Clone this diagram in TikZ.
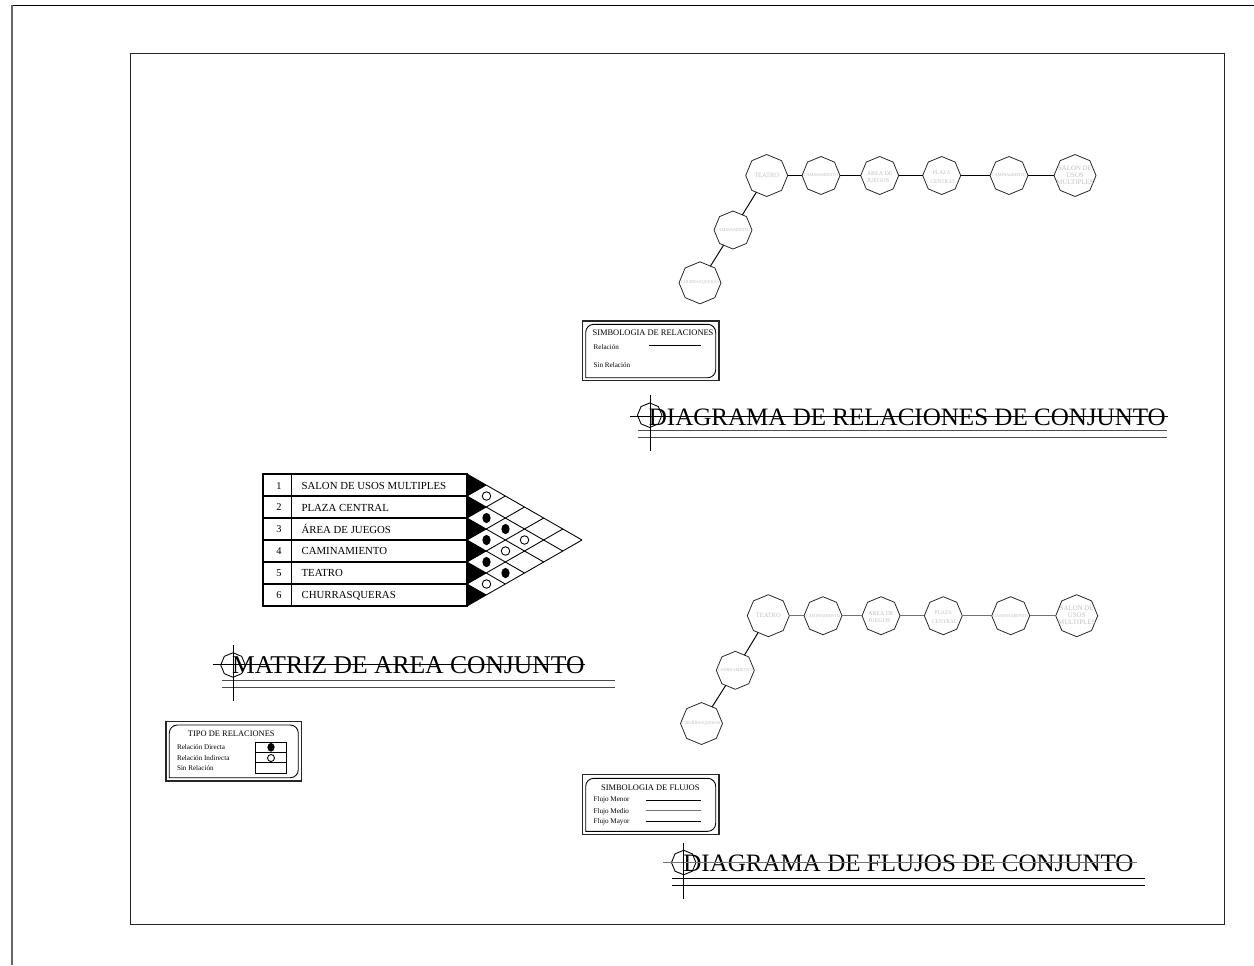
\documentclass[tikz,border=0pt]{standalone}
\usepackage{xcolor}
\usepackage{fontspec}
\setmainfont{Liberation Serif}
\usetikzlibrary{positioning, shapes.geometric}
\definecolor{labelgray}{gray}{0.75}
\tikzset{
	frameline/.style={line width=0.5pt, black!85},
	octline/.style={draw, black!85, line width=0.45pt, regular polygon, regular polygon sides=8, shape border rotate=22.5, inner sep=0pt, outer sep=0pt},
	octbig/.style={octline, minimum size=0.84cm},
	octsmall/.style={octline, minimum size=0.76cm},
	octtitle/.style={octline, black, line width=0.5pt, minimum size=0.49cm},
	tinytext/.style={text=labelgray, inner sep=0pt, align=center, font=\fontsize{2.5}{3}\selectfont},
	midtext/.style={text=labelgray, inner sep=0pt, align=center, font=\fontsize{3.4}{4.2}\selectfont},
	bigtext/.style={text=labelgray, inner sep=0pt, align=center, font=\fontsize{3.9}{4}\selectfont},
	flowline/.style={black!55, line width=0.85pt},
	titletext/.style={anchor=base west, inner sep=0pt, font=\fontsize{14.25}{16}\selectfont},
	rowtext/.style={anchor=base west, inner sep=0pt, font=\fontsize{6.15}{7}\selectfont},
	numtext/.style={inner sep=0pt, font=\fontsize{5.9}{7}\selectfont},
	legendhead/.style={inner sep=0pt, font=\fontsize{4.8}{6}\selectfont},
	legendtext/.style={anchor=west, inner sep=0pt, font=\fontsize{4.05}{5}\selectfont},
	dotopen/.style={draw, black, circle, line width=0.5pt, fill=white, inner sep=0pt, minimum size=0.17cm},
	dotfull/.style={ellipse, fill=black, inner sep=0pt, minimum width=0.165cm, minimum height=0.205cm},
	legopen/.style={dotopen, minimum size=0.14cm},
	legfull/.style={dotfull, minimum width=0.145cm, minimum height=0.175cm}
}
\begin{document}
\begin{tikzpicture}[x=0.02cm, y=-0.02cm]
	\useasboundingbox (0,0) rectangle (1254,965);
	% sheet frames
	\draw[black, line width=0.55pt] (1254,5) -- (12,5);
	\draw[black!60, line width=0.7pt] (12,5) -- (12,965);
	\draw[frameline] (130,53) rectangle (1224,924);

	% relaciones
	\node at (766.7,175.5) (teatroa) [octbig, label={[midtext,font=\fontsize{3.7}{4}\selectfont]center:TEATRO}] {};
	\node at (821,175.5) (camia) [octsmall, label={[tinytext]center:CAMINAMIENTO}] {};
	\node at (879.7,175.5) (areaa) [octsmall, label={[midtext,align=left,yshift=-0.03cm]center:AREA DE\\JUEGOS}] {};
	\node at (941.7,175.5) (plazaa) [octsmall, label={[midtext,font=\fontsize{3.1}{4.9}\selectfont,yshift=-0.03cm]center:PLAZA\\\ \ CENTRAL}] {};
	\node at (1009,175.5) (camib) [octsmall, label={[tinytext]center:CAMINAMIENTO}] {};
	\node at (1075,175.5) (salona) [octbig, label={[bigtext]center:SALON DE\\USOS\\MULTIPLES}] {};
	\node at (733,230) (camic) [octsmall, label={[tinytext]center:CAMINAMIENTO}] {};
	\node at (700,282.8) (churra) [octbig, label={[tinytext]center:CHURRASQUERAS}] {};
	\draw[black, line width=0.55pt] (teatroa) -- (camia);
	\draw[black, line width=0.55pt] (camia) -- (areaa);
	\draw[black, line width=0.55pt] (areaa) -- (plazaa);
	\draw[black, line width=0.55pt] (plazaa) -- (camib);
	\draw[black, line width=0.55pt] (camib) -- (salona);
	\draw[black, line width=0.55pt] (teatroa) -- (camic);
	\draw[black, line width=0.55pt] (camic) -- (churra);

	\draw[frameline, line width=0.6pt] (582.3,321) rectangle (719,380.7);
	\draw[black, line width=0.5pt] (585.7,350) [rounded corners=0.16cm] -- (585.7,324.3) -- (715.7,324.3) -- (715.7,377.7) [sharp corners] -- (585.7,377.7) -- cycle;
	\node at (653,332.7) (simrel) [legendhead] {SIMBOLOGIA DE RELACIONES};
	\node at (593.3,346.7) (rel) [legendtext] {Relación};
	\node at (593.3,365) (sinrel) [legendtext] {Sin Relación};
	\coordinate (rela) at (649,345.3);
	\coordinate (relb) at (700.7,345.3);
	\draw[black, line width=0.55pt] (rela) -- (relb);

	\node at (649.7,415.2) (octrel) [octtitle] {};
	\node at (648.5,425) (titlerel) [titletext] {DIAGRAMA DE RELACIONES DE CONJUNTO};
	\draw[black, line width=0.5pt] (630,416) -- (1168,416);
	\draw[black!70, line width=0.75pt] (638,430.7) -- (1167,430.7);
	\draw[black!70, line width=0.5pt] (638,437.7) -- (1167,437.7);
	\draw[black, line width=0.5pt] (650,395) -- (650,450.7);

	% matriz
	\draw[black, line width=0.6pt] (263,474) rectangle (467,606);
	\draw[black, line width=0.55pt] (291,474) -- (291,606);
	\draw[black, line width=0.6pt] (263,496) -- (467,496);
	\draw[black, line width=0.6pt] (263,518) -- (467,518);
	\draw[black, line width=0.6pt] (263,540) -- (467,540);
	\draw[black, line width=0.6pt] (263,562) -- (467,562);
	\draw[black, line width=0.6pt] (263,584) -- (467,584);
	\node at (279,485.7) (numa) [numtext] {1};
	\node at (279,507.5) (numb) [numtext] {2};
	\node at (279,529.5) (numc) [numtext] {3};
	\node at (279,551.3) (numd) [numtext] {4};
	\node at (279,573.3) (nume) [numtext] {5};
	\node at (279,595) (numf) [numtext] {6};
	\node at (301.2,489.3) (rowa) [rowtext] {SALON DE USOS MULTIPLES};
	\node at (301.2,511.1) (rowb) [rowtext] {PLAZA CENTRAL};
	\node at (301.2,533.1) (rowc) [rowtext] {ÁREA DE JUEGOS};
	\node at (301.2,554.9) (rowd) [rowtext] {CAMINAMIENTO};
	\node at (301.2,576.9) (rowe) [rowtext] {TEATRO};
	\node at (301.2,598.6) (rowf) [rowtext] {CHURRASQUERAS};

	\fill[black] (467,474) -- (486.2,485) -- (467,496) -- cycle;
	\fill[black] (467,496) -- (486.2,507) -- (467,518) -- cycle;
	\fill[black] (467,518) -- (486.2,529) -- (467,540) -- cycle;
	\fill[black] (467,540) -- (486.2,551) -- (467,562) -- cycle;
	\fill[black] (467,562) -- (486.2,573) -- (467,584) -- cycle;
	\fill[black] (467,584) -- (486.2,595) -- (467,606) -- cycle;
	\draw[black, line width=0.5pt] (467,474) -- (582,540);
	\draw[black, line width=0.5pt] (467,496) -- (562.8,551);
	\draw[black, line width=0.5pt] (467,518) -- (543.7,562);
	\draw[black, line width=0.5pt] (467,540) -- (524.5,573);
	\draw[black, line width=0.5pt] (467,562) -- (505.3,584);
	\draw[black, line width=0.5pt] (467,584) -- (486.2,595);
	\draw[black, line width=0.5pt] (467,606) -- (582,540);
	\draw[black, line width=0.5pt] (467,584) -- (562.8,529);
	\draw[black, line width=0.5pt] (467,562) -- (543.7,518);
	\draw[black, line width=0.5pt] (467,540) -- (524.5,507);
	\draw[black, line width=0.5pt] (467,518) -- (505.3,496);
	\draw[black, line width=0.5pt] (467,496) -- (486.2,485);
	\node at (486.5,496) (dota) [dotopen] {};
	\node at (486.5,518) (dotb) [dotfull] {};
	\node at (486.5,540) (dotc) [dotfull] {};
	\node at (486.5,562) (dotd) [dotfull] {};
	\node at (486.5,584) (dote) [dotopen] {};
	\node at (505.5,529) (dotf) [dotfull] {};
	\node at (505.5,551) (dotg) [dotopen] {};
	\node at (505.5,573) (doth) [dotfull] {};
	\node at (524.5,540) (doti) [dotopen] {};

	\node at (233,665) (octmat) [octtitle] {};
	\node at (231.7,673.3) (titlemat) [titletext, font=\fontsize{14.55}{16}\selectfont] {MATRIZ DE AREA CONJUNTO};
	\draw[black, line width=0.5pt] (213.3,664) -- (585,664);
	\draw[black!70, line width=0.75pt] (222,680.7) -- (615,680.7);
	\draw[black!70, line width=0.5pt] (222,687.3) -- (615,687.3);
	\draw[black, line width=0.5pt] (233,645) -- (233,701);

	\draw[frameline, line width=0.6pt] (166,721.7) rectangle (301.7,781);
	\draw[black, line width=0.5pt] (169.3,750) [rounded corners=0.16cm] -- (169.3,725) -- (298.3,725) -- (298.3,777.7) [sharp corners] -- (169.3,777.7) -- cycle;
	\node at (231.3,733.3) (tiporel) [legendhead] {TIPO DE RELACIONES};
	\node at (176.7,746.7) (reldir) [legendtext] {Relación Directa};
	\node at (176.7,757.7) (relind) [legendtext] {Relación Indirecta};
	\node at (176.7,768) (relsin) [legendtext] {Sin Relación};
	\draw[black, line width=0.5pt] (255.3,742.3) rectangle (286.7,773.3);
	\draw[black, line width=0.5pt] (255.3,752.3) -- (286.7,752.3);
	\draw[black, line width=0.5pt] (255.3,762.7) -- (286.7,762.7);
	\node at (271,747.3) (legdira) [legfull] {};
	\node at (271,758) (legdirb) [legopen] {};

	% flujos
	\node at (768.3,615.7) (teatrob) [octbig, label={[midtext,font=\fontsize{3.7}{4}\selectfont]center:TEATRO}] {};
	\node at (823,615.7) (camid) [octsmall, label={[tinytext]center:CAMINAMIENTO}] {};
	\node at (881,615.7) (areab) [octsmall, label={[midtext,align=left,yshift=-0.03cm]center:AREA DE\\JUEGOS}] {};
	\node at (943.3,615.7) (plazab) [octsmall, label={[midtext,font=\fontsize{3.1}{4.9}\selectfont,yshift=-0.03cm]center:PLAZA\\\ \ CENTRAL}] {};
	\node at (1010.7,615.7) (camie) [octsmall, label={[tinytext]center:CAMINAMIENTO}] {};
	\node at (1076.7,615.7) (salonb) [octbig, label={[bigtext]center:SALON DE\\USOS\\MULTIPLES}] {};
	\node at (735.3,670.3) (camif) [octsmall, label={[tinytext]center:CAMINAMIENTO}] {};
	\node at (701.5,723.5) (churrb) [octbig, label={[tinytext]center:CHURRASQUERAS}] {};
	\draw[flowline] (teatrob) -- (camid);
	\draw[flowline] (camid) -- (areab);
	\draw[flowline] (areab) -- (plazab);
	\draw[flowline] (plazab) -- (camie);
	\draw[flowline] (camie) -- (salonb);
	\draw[black, line width=0.55pt] (teatrob) -- (camif);
	\draw[black, line width=0.55pt] (camif) -- (churrb);

	\draw[frameline, line width=0.6pt] (582.3,774.3) rectangle (719,834.7);
	\draw[black, line width=0.5pt] (585.7,805) [rounded corners=0.16cm] -- (585.7,778.3) -- (715.7,778.3) -- (715.7,831.3) [sharp corners] -- (585.7,831.3) -- cycle;
	\node at (650.3,787.7) (simflu) [legendhead] {SIMBOLOGIA DE FLUJOS};
	\node at (593.3,800) (flumen) [legendtext] {Flujo Menor};
	\node at (593.3,811.7) (flumed) [legendtext] {Flujo Medio};
	\node at (593.3,821.7) (flumay) [legendtext] {Flujo Mayor};
	\coordinate (menora) at (645.7,800.3);
	\coordinate (menorb) at (701,800.3);
	\coordinate (medioa) at (645.7,810.7);
	\coordinate (mediob) at (701,810.7);
	\coordinate (mayora) at (645.7,821.3);
	\coordinate (mayorb) at (701,821.3);
	\draw[black, line width=0.55pt] (menora) -- (menorb);
	\draw[flowline] (medioa) -- (mediob);
	\draw[black, line width=0.55pt] (mayora) -- (mayorb);

	\node at (683.7,862.5) (octflu) [octtitle] {};
	\node at (683,871) (titleflu) [titletext] {DIAGRAMA DE FLUJOS DE CONJUNTO};
	\draw[flowline] (663.3,862.7) -- (1137,862.7);
	\draw[black, line width=0.55pt] (672.3,878.3) -- (1145,878.3);
	\draw[black, line width=0.55pt] (672.3,885.3) -- (1145,885.3);
	\draw[black, line width=0.5pt] (683.7,842.7) -- (683.7,898.7);
\end{tikzpicture}
\end{document}
